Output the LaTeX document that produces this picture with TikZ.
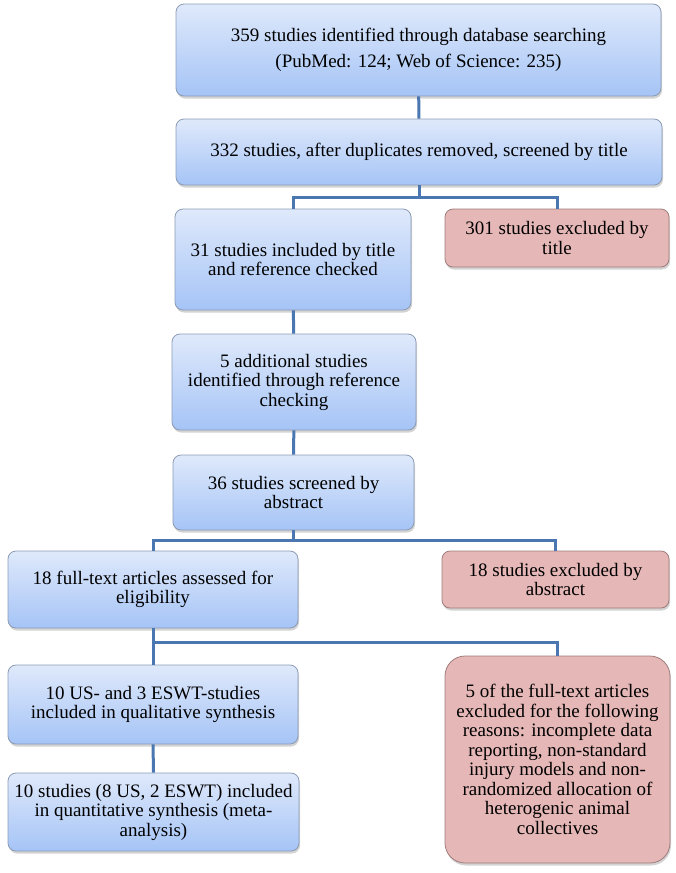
\documentclass[tikz,border=0pt]{standalone}
\usepackage{fontspec}
\setmainfont{Liberation Serif}
\usepackage{tikz}
\usetikzlibrary{shadows}

\definecolor{boxtop}{RGB}{223,233,251}
\definecolor{boxbot}{RGB}{165,196,246}
\definecolor{boxline}{RGB}{140,155,180}
\definecolor{exfill}{RGB}{229,183,182}
\definecolor{exline}{RGB}{160,125,125}
\definecolor{linkcol}{RGB}{74,118,178}

\begin{document}
\begin{tikzpicture}[
                        x=1pt, y=-1pt,
                        every node/.style={align=center, inner sep=0pt,
                          font=\fontsize{19}{19.5}\selectfont},
                        study/.style={rectangle, rounded corners=8pt, draw=boxline, line width=0.8pt,
                          top color=boxtop, bottom color=boxbot,
                          drop shadow={opacity=0.35, shadow xshift=1pt, shadow yshift=-2.5pt}},
                        excluded/.style={rectangle, rounded corners=8pt, draw=exline, line width=0.8pt,
                          fill=exfill,
                          drop shadow={opacity=0.35, shadow xshift=1pt, shadow yshift=-2.5pt}},
                        link/.style={draw=linkcol, line width=3pt}
                        ]
  \useasboundingbox (0,0) rectangle (675,873);

  % included branch
  \node[study, minimum width=485pt, minimum height=92pt] (identified) at (418.5,50)
    {359 studies identified through database searching\\[6pt]
     (PubMed: 124; Web of Science: 235)};
  \node[study, minimum width=486pt, minimum height=66pt] (screened) at (419,152)
    {332 studies, after duplicates removed, screened by title};
  \node[study, minimum width=236pt, minimum height=101pt] (bytitle) at (293,259.5)
    {31 studies included by title\\ and reference checked};
  \node[study, minimum width=244pt, minimum height=96pt] (additional) at (294,382)
    {5 additional studies\\ identified through reference\\ checking};
  \node[study, minimum width=241pt, minimum height=75pt] (abstract) at (293.5,492.5)
    {36 studies screened by\\ abstract};
  \node[study, minimum width=290pt, minimum height=77pt] (fulltext) at (153,589.5)
    {18 full-text articles assessed for\\ eligibility};
  \node[study, minimum width=290pt, minimum height=79pt] (qualitative) at (153,704.5)
    {10 US- and 3 ESWT-studies\\ included in qualitative synthesis};
  \node[study, minimum width=291pt, minimum height=78pt] (quantitative) at (153.5,812)
    {10 studies (8 US, 2 ESWT) included\\ in quantitative synthesis (meta-\\ analysis)};

  % excluded branch
  \node[excluded, minimum width=224pt, minimum height=58pt] (extitle) at (557,238)
    {301 studies excluded by\\ title};
  \node[excluded, minimum width=227pt, minimum height=57pt] (exabstract) at (555.5,579.5)
    {18 studies excluded by\\ abstract};
  \node[excluded, rounded corners=20pt, minimum width=225pt, minimum height=207pt] (exfull) at (557.5,759.5)
    {5 of the full-text articles\\ excluded for the following\\ reasons: incomplete data\\
     reporting, non-standard\\ injury models and non-\\ randomized allocation of\\
     heterogenic animal\\ collectives};

  \coordinate (split1) at (419,197);
  \coordinate (split2) at (293.5,540);
  \coordinate (split3) at (153,642);

  \path[link] (identified) -- (screened);
  \path[link] (screened) -- (split1) -| (bytitle);
  \path[link] (split1) -| (extitle);
  \path[link] (bytitle) -- (additional);
  \path[link] (additional) -- (abstract);
  \path[link] (abstract) -- (split2) -| (fulltext);
  \path[link] (split2) -| (exabstract);
  \path[link] (fulltext) -- (split3) -| (exfull);
  \path[link] (split3) -- (qualitative);
  \path[link] (qualitative) -- (quantitative);
\end{tikzpicture}
\end{document}
